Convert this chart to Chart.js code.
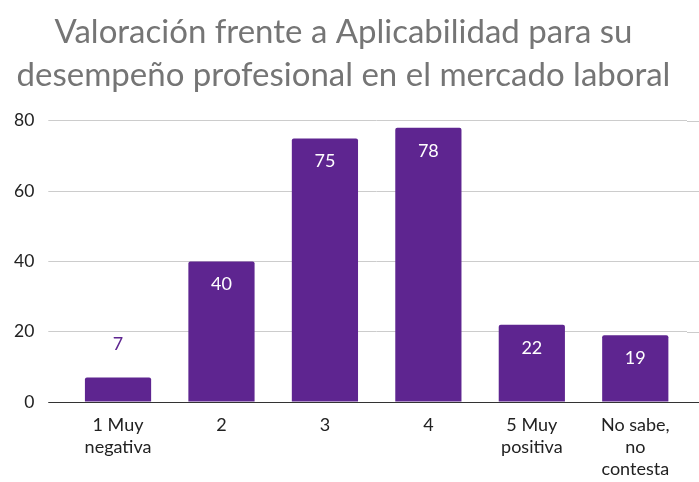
<!DOCTYPE html>
<html>
<head>
<meta charset="utf-8">
<script src="https://cdn.jsdelivr.net/npm/chart.js@4"></script>
<style>
  html, body { margin: 0; padding: 0; background: #fff; }
  #wrap { width: 699px; height: 482px; }
</style>
</head>
<body>
<div id="wrap"><canvas id="chart" width="699" height="482"></canvas></div>
<script>
const titleLines = [
  "Valoración frente a Aplicabilidad para su",
  "desempeño profesional en el mercado laboral"
];
const categories = [
  ["1 Muy", "negativa"],
  "2",
  "3",
  "4",
  ["5 Muy", "positiva"],
  ["No sabe,", "no", "contesta"]
];
const counts = [7, 40, 75, 78, 22, 19];
const yTicks = [0, 20, 40, 60, 80];

const barColor = "#5e2590";
const fontFamily = "Lato, 'Open Sans', sans-serif";

// value labels: white inside the bar, purple above when the bar is short
const valueLabels = {
  id: "valueLabels",
  afterDatasetsDraw(chart) {
    const ctx = chart.ctx;
    const meta = chart.getDatasetMeta(0);
    ctx.save();
    ctx.font = "18px " + fontFamily;
    ctx.textAlign = "center";
    ctx.textBaseline = "middle";
    meta.data.forEach((bar, i) => {
      const h = bar.base - bar.y;
      if (h > 30) {
        ctx.fillStyle = "#ffffff";
        ctx.fillText(String(counts[i]), bar.x, bar.y + 23);
      } else {
        ctx.fillStyle = barColor;
        ctx.fillText(String(counts[i]), bar.x, bar.y - 33);
      }
    });
    ctx.restore();
  }
};

// gridlines run to the right edge, zero line is dark from the tick start
const gridExtend = {
  id: "gridExtend",
  beforeDatasetsDraw(chart) {
    const ctx = chart.ctx;
    const y = chart.scales.y;
    const area = chart.chartArea;
    const startX = area.left - 18;
    ctx.save();
    ctx.lineWidth = 1;
    y.ticks.forEach(t => {
      const py = Math.round(y.getPixelForValue(t.value)) + 0.5;
      ctx.strokeStyle = t.value === 0 ? "#333333" : "#cccccc";
      ctx.beginPath();
      ctx.moveTo(t.value === 0 ? startX : area.right, py);
      ctx.lineTo(chart.width, py);
      ctx.stroke();
    });
    ctx.restore();
  }
};

new Chart(document.getElementById("chart"), {
  type: "bar",
  data: {
    labels: categories,
    datasets: [{
      data: counts,
      backgroundColor: barColor,
      borderRadius: { topLeft: 2, topRight: 2 },
      borderSkipped: "bottom",
      categoryPercentage: 1,
      barPercentage: 0.64
    }]
  },
  options: {
    responsive: false,
    animation: false,
    layout: { padding: { left: 0, right: 12, top: 11, bottom: -2 } },
    plugins: {
      legend: { display: false },
      tooltip: { enabled: false },
      title: {
        display: true,
        text: titleLines,
        color: "#757575",
        font: { family: fontFamily, size: 33, weight: "normal", lineHeight: 1.3 },
        padding: { top: 0, bottom: 24 }
      }
    },
    scales: {
      x: {
        grid: { display: false },
        border: { display: true, color: "#333333", width: 1 },
        ticks: {
          color: "#222222",
          font: { family: fontFamily, size: 18, lineHeight: 1.22 },
          maxRotation: 0,
          padding: 4
        }
      },
      y: {
        min: 0,
        max: 80,
        afterBuildTicks(scale) {
          scale.ticks = yTicks.map(v => ({ value: v }));
        },
        grid: { color: "#cccccc", lineWidth: 1, drawTicks: true, tickLength: 18 },
        border: { display: false },
        ticks: {
          color: "#222222",
          font: { family: fontFamily, size: 17.5 },
          padding: 14
        }
      }
    }
  },
  plugins: [gridExtend, valueLabels]
});
</script>
</body>
</html>
